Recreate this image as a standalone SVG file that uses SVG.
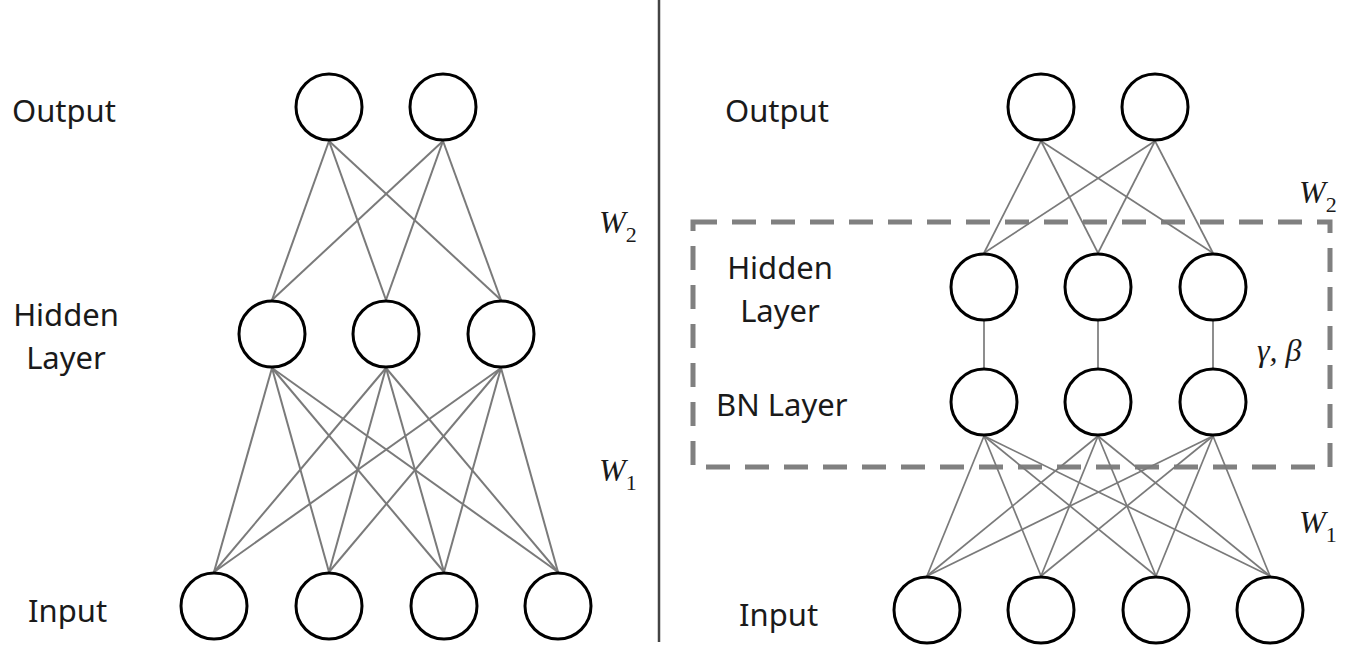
<svg xmlns="http://www.w3.org/2000/svg" width="1362" height="660" viewBox="0 0 1362 660">
  <style>
    .node { fill: #ffffff; stroke: #000000; stroke-width: 3; }
    .edge { stroke: #7a7a7a; stroke-width: 2; fill: none; }
    .edge-r { stroke: #7a7a7a; stroke-width: 1.7; fill: none; }
    .label { font-family: "Noto Sans", "Open Sans", sans-serif; font-size: 31px; fill: #1a1a1a; }
    .math { font-family: "Liberation Serif", "DejaVu Serif", serif; font-style: italic; font-size: 32px; fill: #1a1a1a; }
    .sub { font-family: "Liberation Serif", "DejaVu Serif", serif; font-style: normal; font-size: 22px; fill: #1a1a1a; }
    .divider { stroke: #444444; stroke-width: 2.5; }
    .bn-box { fill: none; stroke: #808080; stroke-width: 5; stroke-dasharray: 24 15; }
  </style>

  <rect width="1362" height="660" fill="#ffffff"/>

  <!-- divider between the two networks -->
  <line class="divider" x1="659" y1="0" x2="659" y2="642"/>

  <!-- ===== Left network: plain MLP ===== -->
  <g id="left-connectors">
    <!-- output -> hidden (W2) -->
    <line class="edge" x1="329" y1="141" x2="272" y2="300"/>
    <line class="edge" x1="329" y1="141" x2="386" y2="300"/>
    <line class="edge" x1="329" y1="141" x2="501" y2="300"/>
    <line class="edge" x1="443" y1="141" x2="272" y2="300"/>
    <line class="edge" x1="443" y1="141" x2="386" y2="300"/>
    <line class="edge" x1="443" y1="141" x2="501" y2="300"/>
    <!-- hidden -> input (W1) -->
    <line class="edge" x1="272" y1="368" x2="214" y2="572"/>
    <line class="edge" x1="272" y1="368" x2="329" y2="572"/>
    <line class="edge" x1="272" y1="368" x2="444" y2="572"/>
    <line class="edge" x1="272" y1="368" x2="558" y2="572"/>
    <line class="edge" x1="386" y1="368" x2="214" y2="572"/>
    <line class="edge" x1="386" y1="368" x2="329" y2="572"/>
    <line class="edge" x1="386" y1="368" x2="444" y2="572"/>
    <line class="edge" x1="386" y1="368" x2="558" y2="572"/>
    <line class="edge" x1="501" y1="368" x2="214" y2="572"/>
    <line class="edge" x1="501" y1="368" x2="329" y2="572"/>
    <line class="edge" x1="501" y1="368" x2="444" y2="572"/>
    <line class="edge" x1="501" y1="368" x2="558" y2="572"/>
  </g>

  <g id="L-out-1"><circle class="node" cx="329" cy="107" r="33"/></g>
  <g id="L-out-2"><circle class="node" cx="443" cy="107" r="33"/></g>
  <g id="L-hid-1"><circle class="node" cx="272" cy="334" r="33"/></g>
  <g id="L-hid-2"><circle class="node" cx="386" cy="334" r="33"/></g>
  <g id="L-hid-3"><circle class="node" cx="501" cy="334" r="33"/></g>
  <g id="L-in-1"><circle class="node" cx="214" cy="606" r="33"/></g>
  <g id="L-in-2"><circle class="node" cx="329" cy="606" r="33"/></g>
  <g id="L-in-3"><circle class="node" cx="444" cy="606" r="33"/></g>
  <g id="L-in-4"><circle class="node" cx="558" cy="606" r="33"/></g>

  <g id="left-labels">
    <text class="label" x="12" y="122">Output</text>
    <text class="label" x="66" y="326" text-anchor="middle">Hidden</text>
    <text class="label" x="66" y="369" text-anchor="middle">Layer</text>
    <text class="label" x="28" y="622">Input</text>
    <text class="math" x="599" y="233">W<tspan class="sub" dy="9">2</tspan></text>
    <text class="math" x="599" y="481">W<tspan class="sub" dy="9">1</tspan></text>
  </g>

  <!-- ===== Right network: MLP with batch-norm layer ===== -->
  <g id="bn-block">
    <rect class="bn-box" x="693" y="222" width="637" height="245"/>
  </g>

  <g id="right-connectors">
    <!-- output -> hidden (W2) -->
    <line class="edge-r" x1="1041" y1="141" x2="984" y2="253"/>
    <line class="edge-r" x1="1041" y1="141" x2="1098" y2="253"/>
    <line class="edge-r" x1="1041" y1="141" x2="1213" y2="253"/>
    <line class="edge-r" x1="1155" y1="141" x2="984" y2="253"/>
    <line class="edge-r" x1="1155" y1="141" x2="1098" y2="253"/>
    <line class="edge-r" x1="1155" y1="141" x2="1213" y2="253"/>
    <!-- hidden -> BN (gamma, beta) -->
    <line class="edge-r" x1="984" y1="321" x2="984" y2="368"/>
    <line class="edge-r" x1="1098" y1="321" x2="1098" y2="368"/>
    <line class="edge-r" x1="1213" y1="321" x2="1213" y2="368"/>
    <!-- BN -> input (W1) -->
    <line class="edge-r" x1="984" y1="436" x2="927" y2="576"/>
    <line class="edge-r" x1="984" y1="436" x2="1041" y2="576"/>
    <line class="edge-r" x1="984" y1="436" x2="1156" y2="576"/>
    <line class="edge-r" x1="984" y1="436" x2="1270" y2="576"/>
    <line class="edge-r" x1="1098" y1="436" x2="927" y2="576"/>
    <line class="edge-r" x1="1098" y1="436" x2="1041" y2="576"/>
    <line class="edge-r" x1="1098" y1="436" x2="1156" y2="576"/>
    <line class="edge-r" x1="1098" y1="436" x2="1270" y2="576"/>
    <line class="edge-r" x1="1213" y1="436" x2="927" y2="576"/>
    <line class="edge-r" x1="1213" y1="436" x2="1041" y2="576"/>
    <line class="edge-r" x1="1213" y1="436" x2="1156" y2="576"/>
    <line class="edge-r" x1="1213" y1="436" x2="1270" y2="576"/>
  </g>

  <g id="R-out-1"><circle class="node" cx="1041" cy="107" r="33"/></g>
  <g id="R-out-2"><circle class="node" cx="1155" cy="107" r="33"/></g>
  <g id="R-hid-1"><circle class="node" cx="984" cy="287" r="33"/></g>
  <g id="R-hid-2"><circle class="node" cx="1098" cy="287" r="33"/></g>
  <g id="R-hid-3"><circle class="node" cx="1213" cy="287" r="33"/></g>
  <g id="R-bn-1"><circle class="node" cx="984" cy="402" r="33"/></g>
  <g id="R-bn-2"><circle class="node" cx="1098" cy="402" r="33"/></g>
  <g id="R-bn-3"><circle class="node" cx="1213" cy="402" r="33"/></g>
  <g id="R-in-1"><circle class="node" cx="927" cy="610" r="33"/></g>
  <g id="R-in-2"><circle class="node" cx="1041" cy="610" r="33"/></g>
  <g id="R-in-3"><circle class="node" cx="1156" cy="610" r="33"/></g>
  <g id="R-in-4"><circle class="node" cx="1270" cy="610" r="33"/></g>

  <g id="right-labels">
    <text class="label" x="725" y="122">Output</text>
    <text class="label" x="780" y="279" text-anchor="middle">Hidden</text>
    <text class="label" x="780" y="322" text-anchor="middle">Layer</text>
    <text class="label" x="716" y="416">BN Layer</text>
    <text class="label" x="739" y="626">Input</text>
    <text class="math" x="1299" y="203">W<tspan class="sub" dy="9">2</tspan></text>
    <text class="math" x="1257" y="361" font-size="34">γ, β</text>
    <text class="math" x="1299" y="533">W<tspan class="sub" dy="9">1</tspan></text>
  </g>
</svg>
